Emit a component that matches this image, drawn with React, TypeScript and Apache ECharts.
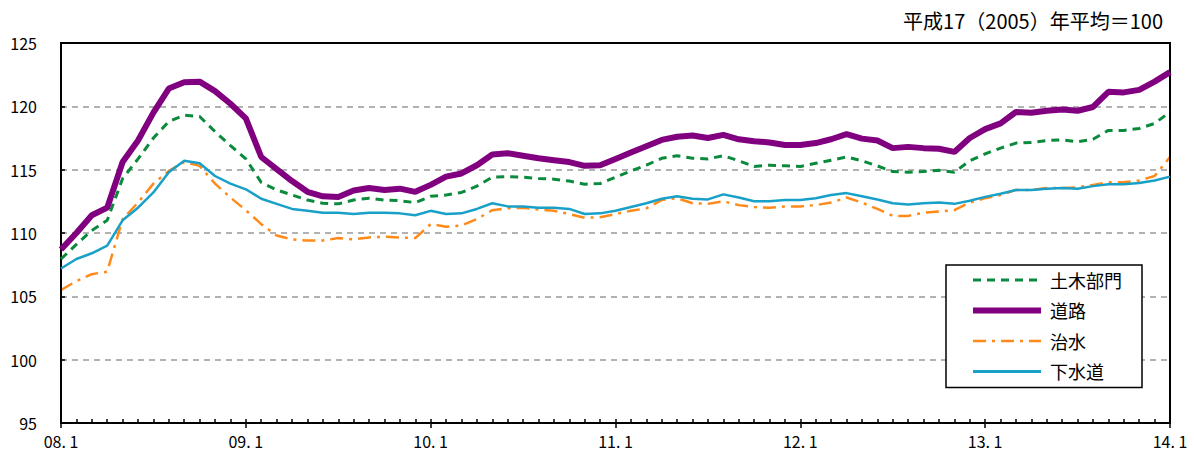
import React, { useEffect, useRef } from "react";
import * as echarts from "echarts";

const yearLabels = ["08. 1", "09. 1", "10. 1", "11. 1", "12. 1", "13. 1", "14. 1"];
const seriesNames = ["土木部門", "道路", "治水", "下水道"];

const doboku = [
  107.95, 109.1, 110.2, 111.0, 114.3, 115.85, 117.5, 118.8, 119.3, 119.2, 118.0, 116.9,
  115.85, 114.0, 113.4, 113.0, 112.6, 112.35, 112.3, 112.6, 112.75, 112.6, 112.55, 112.4,
  112.9, 113.0, 113.2, 113.7, 114.4, 114.45, 114.4, 114.3, 114.25, 114.1, 113.85, 113.9,
  114.4, 114.9, 115.35, 115.9, 116.1, 115.9, 115.85, 116.1, 115.7, 115.25, 115.35, 115.3,
  115.25, 115.5, 115.75, 116.0, 115.7, 115.3, 114.85, 114.8, 114.85, 114.95, 114.8, 115.7,
  116.25, 116.7, 117.1, 117.15, 117.3, 117.35, 117.2, 117.4, 118.1, 118.1, 118.25, 118.65,
  119.55,
];
const douro = [
  108.7, 110.0, 111.4, 112.0, 115.6, 117.3, 119.5, 121.4, 121.9, 121.95, 121.2, 120.2,
  119.05, 116.0, 115.05, 114.1, 113.25, 112.9, 112.85, 113.35, 113.55, 113.4, 113.5, 113.25,
  113.8, 114.45, 114.7, 115.35, 116.2, 116.3, 116.1, 115.9, 115.75, 115.6, 115.3, 115.35,
  115.85, 116.35, 116.85, 117.35, 117.6, 117.7, 117.5, 117.75, 117.4, 117.25, 117.15, 116.95,
  116.95, 117.1, 117.4, 117.8, 117.45, 117.3, 116.7, 116.8, 116.7, 116.65, 116.4, 117.5,
  118.2, 118.65, 119.55, 119.5, 119.65, 119.75, 119.65, 119.95, 121.15, 121.1, 121.3, 121.95,
  122.7,
];
const chisui = [
  105.5, 106.2, 106.75, 106.95, 111.1, 112.4, 113.9, 114.9, 115.6, 115.3, 113.9, 112.8,
  111.8, 110.7, 109.8, 109.5, 109.4, 109.4, 109.6, 109.5, 109.65, 109.7, 109.65, 109.6,
  110.7, 110.5, 110.6, 111.1, 111.8, 111.95, 112.0, 111.85, 111.75, 111.5, 111.2, 111.25,
  111.5, 111.75, 111.95, 112.6, 112.75, 112.35, 112.3, 112.5, 112.2, 112.05, 112.0, 112.1,
  112.1, 112.2, 112.4, 112.8, 112.4, 111.9, 111.35, 111.35, 111.6, 111.7, 111.8, 112.4,
  112.75, 113.0, 113.4, 113.4, 113.55, 113.55, 113.6, 113.8, 114.0, 114.0, 114.15, 114.5,
  116.0,
];
const gesuido = [
  107.2, 107.95, 108.4, 109.0, 111.0, 112.0, 113.2, 114.8, 115.7, 115.5, 114.5, 113.9,
  113.45, 112.7, 112.3, 111.9, 111.75, 111.6, 111.6, 111.5, 111.6, 111.6, 111.55, 111.4,
  111.75, 111.5, 111.55, 111.9, 112.35, 112.1, 112.1, 112.0, 112.0, 111.9, 111.5, 111.55,
  111.75, 112.05, 112.35, 112.7, 112.9, 112.7, 112.65, 113.05, 112.8, 112.5, 112.5, 112.6,
  112.6, 112.75, 113.0, 113.15, 112.9, 112.65, 112.35, 112.25, 112.35, 112.4, 112.3, 112.55,
  112.85, 113.1, 113.4, 113.4, 113.5, 113.55, 113.5, 113.7, 113.85, 113.85, 113.95, 114.15,
  114.45,
];

const categories: string[] = [];
for (let y = 8; y <= 14; y++) {
  for (let m = 1; m <= 12; m++) {
    if (y === 14 && m > 1) break;
    categories.push(String(y).padStart(2, "0") + ". " + m);
  }
}

const FONT = "'Noto Sans CJK JP', 'Noto Sans', sans-serif";

const GREEN = "#0a8a3c";
const PURPLE = "#800080";
const ORANGE = "#ff8a1a";
const CYAN = "#18a0c8";

export default function App() {
  const ref = useRef<HTMLDivElement>(null);
  useEffect(() => {
    if (!ref.current) return;
    const chart = echarts.init(ref.current, undefined, { renderer: "svg" });
    chart.setOption({
      animation: false,
      backgroundColor: "#fff",
      textStyle: { fontFamily: FONT },
      title: {
        text: "平成17（2005）年平均＝100",
        right: 26,
        top: 5,
        textStyle: { fontFamily: FONT, fontSize: 20, fontWeight: "normal", color: "#000" },
      },
      legend: {
        orient: "vertical",
        left: 946,
        top: 265,
        padding: [6, 20, 7, 24],
        itemWidth: 68,
        itemHeight: 14,
        itemGap: 12.5,
        borderColor: "#000",
        borderWidth: 1.5,
        backgroundColor: "#fff",
        data: [
          { name: seriesNames[0], lineStyle: { width: 3, color: GREEN, type: [8, 6] } },
          { name: seriesNames[1], lineStyle: { width: 6, color: PURPLE } },
          { name: seriesNames[2], lineStyle: { width: 2.5, color: ORANGE, type: [13, 6, 3, 6] } },
          { name: seriesNames[3], lineStyle: { width: 3, color: CYAN } },
        ],
        itemStyle: { color: "transparent", borderWidth: 0, opacity: 0 },
        textStyle: { fontFamily: FONT, fontSize: 18, color: "#000", padding: [0, 0, 0, 4] },
      },
      grid: {
        left: 61,
        right: 24,
        top: 43,
        bottom: 34,
        show: true,
        borderColor: "#000",
        borderWidth: 2,
        outerBoundsMode: "none",
        z: 3,
      },
      xAxis: [
        {
          type: "category",
          data: categories,
          boundaryGap: false,
          position: "bottom",
          axisLine: { lineStyle: { color: "#000", width: 2 } },
          axisTick: { show: true, interval: 0, inside: true, length: 4, lineStyle: { color: "#000", width: 1.5 } },
          axisLabel: {
            interval: (i: number) => i % 12 === 0,
            formatter: (v: string, i: number) => (i % 12 === 0 ? yearLabels[i / 12] : ""),
            color: "#000",
            fontSize: 16,
            fontFamily: FONT,
            margin: 10,
          },
          splitLine: { show: false },
        },
        {
          type: "category",
          data: categories,
          boundaryGap: false,
          position: "bottom",
          offset: 0,
          axisLine: { show: false },
          axisTick: {
            show: true,
            interval: (i: number) => i % 12 === 0,
            length: 5,
            lineStyle: { color: "#000", width: 1.5 },
          },
          axisLabel: { show: false },
          splitLine: { show: false },
        },
      ],
      yAxis: {
        type: "value",
        min: 95,
        max: 125,
        interval: 5,
        axisLine: { show: true, lineStyle: { color: "#000", width: 2 } },
        axisTick: { show: true, inside: true, length: 4, lineStyle: { color: "#000", width: 1.5 } },
        axisLabel: { color: "#000", fontSize: 16, fontFamily: FONT, margin: 24 },
        splitLine: {
          show: true,
          showMinLine: false,
          showMaxLine: false,
          lineStyle: { color: "#999", type: [6, 5], width: 1.5 },
        },
      },
      series: [
        {
          name: seriesNames[0],
          type: "line",
          data: doboku,
          showSymbol: false,
          symbol: "none",
          lineStyle: { color: GREEN, width: 3, type: [8, 6] },
          itemStyle: { color: GREEN },
          z: 3,
        },
        {
          name: seriesNames[1],
          type: "line",
          data: douro,
          showSymbol: false,
          symbol: "none",
          lineStyle: { color: PURPLE, width: 6 },
          itemStyle: { color: PURPLE },
          z: 4,
        },
        {
          name: seriesNames[2],
          type: "line",
          data: chisui,
          showSymbol: false,
          symbol: "none",
          lineStyle: { color: ORANGE, width: 2.5, type: [13, 6, 3, 6] },
          itemStyle: { color: ORANGE },
          z: 2,
        },
        {
          name: seriesNames[3],
          type: "line",
          data: gesuido,
          showSymbol: false,
          symbol: "none",
          lineStyle: { color: CYAN, width: 2.5 },
          itemStyle: { color: CYAN },
          z: 3,
        },
      ],
    });
    return () => chart.dispose();
  }, []);
  return (
    <div
      ref={ref}
      style={{ position: "fixed", left: 0, top: 0, width: 1194, height: 457 }}
    />
  );
}
